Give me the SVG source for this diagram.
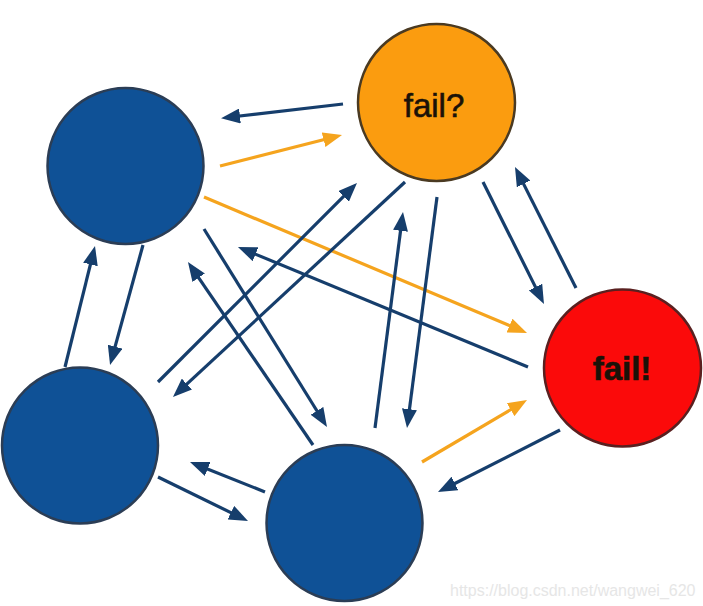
<svg xmlns="http://www.w3.org/2000/svg" width="703" height="606" viewBox="0 0 703 606">
<style>
.blue{fill:#0f5196;stroke:#2b3d55;stroke-width:2.5}
.orange{fill:#fb9c0f;stroke:#4a3a22;stroke-width:2.5}
.red{fill:#fb0a0a;stroke:#5a2020;stroke-width:2.5}
.e{stroke:#163e6c;stroke-width:3.2;fill:none;marker-end:url(#hn)}
.o{stroke:#f5a41e;stroke-width:3.2;fill:none;marker-end:url(#ho)}
.lbl{font-family:"Liberation Sans",Arial,sans-serif;font-size:33px;fill:#1a1208;text-anchor:middle;stroke:#1a1208;stroke-width:0.6}
.wm{font-family:"Liberation Sans",Arial,sans-serif;font-size:16px;fill:#e6e6e6}
</style>
<defs>
<marker id="hn" viewBox="0 0 19 15" markerWidth="19" markerHeight="15" refX="9" refY="7.5" orient="auto" markerUnits="userSpaceOnUse"><path d="M0,0 L19,7.5 L0,15 z" fill="#163e6c"/></marker>
<marker id="ho" viewBox="0 0 19 15" markerWidth="19" markerHeight="15" refX="9" refY="7.5" orient="auto" markerUnits="userSpaceOnUse"><path d="M0,0 L19,7.5 L0,15 z" fill="#f5a41e"/></marker>
</defs>
<rect width="703" height="606" fill="#fff"/>
<g id="connectors">
<line class="e" x1="343" y1="104" x2="231" y2="117"/>
<line class="o" x1="220" y1="166" x2="332.3" y2="137.5"/>
<line class="o" x1="204" y1="197" x2="517.8" y2="329.1"/>
<line class="e" x1="528" y1="367" x2="247.2" y2="250.8"/>
<line class="e" x1="158" y1="382" x2="349.9" y2="190.1"/>
<line class="e" x1="405" y1="182" x2="180.3" y2="390.2"/>
<line class="e" x1="143" y1="245" x2="112.7" y2="355.4"/>
<line class="e" x1="65" y1="367" x2="92.6" y2="255.7"/>
<line class="e" x1="204" y1="229" x2="321.7" y2="418.5"/>
<line class="e" x1="313" y1="445" x2="193.6" y2="270.3"/>
<line class="e" x1="158" y1="477" x2="239" y2="516.6"/>
<line class="e" x1="265" y1="492" x2="199.3" y2="465.7"/>
<line class="e" x1="375" y1="428" x2="401.7" y2="221.9"/>
<line class="e" x1="437" y1="197" x2="408.3" y2="418.1"/>
<line class="e" x1="483" y1="182" x2="539.5" y2="295.1"/>
<line class="e" x1="576" y1="288" x2="519.5" y2="175.9"/>
<line class="o" x1="422" y1="462" x2="518.4" y2="405.1"/>
<line class="e" x1="560" y1="430" x2="446.9" y2="487.5"/>
</g>
<g id="node-topleft"><circle class="blue" cx="125.5" cy="166" r="78"/></g>
<g id="node-fail-q"><circle class="orange" cx="436.5" cy="102.5" r="78.5"/><text class="lbl" x="434" y="117">fail?</text></g>
<g id="node-fail-x"><circle class="red" cx="622.5" cy="368" r="78.5"/><text class="lbl" x="622" y="380" font-weight="bold">fail!</text></g>
<g id="node-bottomleft"><circle class="blue" cx="80" cy="445.5" r="78"/></g>
<g id="node-bottom"><circle class="blue" cx="344.5" cy="523" r="78"/></g>
<text class="wm" x="450" y="596">https://blog.csdn.net/wangwei_620</text>
</svg>
